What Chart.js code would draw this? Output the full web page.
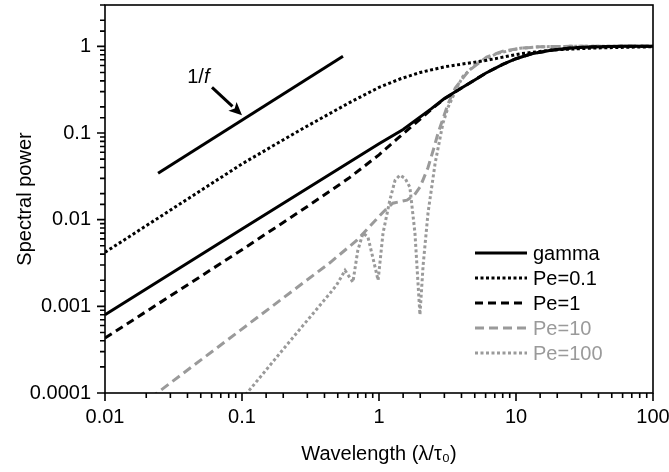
<!DOCTYPE html>
<html>
<head>
<meta charset="utf-8">
<script src="https://cdn.jsdelivr.net/npm/chart.js@4/dist/chart.umd.min.js"></script>
<style>
  html, body { margin: 0; padding: 0; background: #fff; }
  #wrap { width: 669px; height: 472px; }
</style>
</head>
<body>
<div id="wrap"><canvas id="spectrum" width="669" height="472"></canvas></div>
<script>
// values (x = wavelength, y = spectral power)
const gammaX = [0.01, 0.1, 1, 1.5, 2.4, 3, 4, 5, 6, 8, 10, 13, 18, 25, 35, 60, 100];
const gammaY = [0.0008, 0.0078, 0.075, 0.11, 0.19, 0.25, 0.33, 0.41, 0.49, 0.62, 0.72, 0.82, 0.9, 0.955, 0.985, 1.0, 1.0];

const pe01X = [0.01, 0.1, 0.265, 0.614, 1, 1.42, 2, 3, 6.1, 10.7, 18.6, 40, 100];
const pe01Y = [0.0042, 0.044, 0.108, 0.226, 0.336, 0.42, 0.5, 0.58, 0.69, 0.82, 0.91, 0.96, 0.99];

const pe1X = [0.01, 0.1, 0.3, 0.6, 1, 1.35, 2, 2.48, 3.03, 4, 5, 6, 8, 10, 13, 18, 25, 35, 60, 100];
const pe1Y = [0.00043, 0.0045, 0.0142, 0.03, 0.056, 0.085, 0.145, 0.195, 0.25, 0.33, 0.41, 0.49, 0.62, 0.72, 0.82, 0.9, 0.955, 0.985, 1.0, 1.0];

const pe10X = [0.01, 0.024, 0.08, 0.2, 0.44, 0.69, 1.07, 1.26, 1.6, 1.8, 2.0, 2.28, 2.5, 2.7, 3.2, 3.6, 4.5, 6.1, 8, 10.7, 15, 25, 100];
const pe10Y = [0.000036, 0.0001, 0.00042, 0.00125, 0.0032, 0.0058, 0.0122, 0.0155, 0.0168, 0.019, 0.024, 0.04, 0.065, 0.1, 0.22, 0.33, 0.52, 0.75, 0.88, 0.95, 0.99, 1.0, 1.0];

const pe100X = [0.1, 0.2, 0.3, 0.44, 0.49, 0.565, 0.645, 0.7, 0.764, 0.83, 0.9, 0.985, 1.07, 1.2, 1.31, 1.42, 1.55, 1.68, 1.83, 1.99, 2.1, 2.28, 2.57, 2.93, 3.2, 3.7, 4.1, 5.2, 7.3, 10.7, 15, 25, 100];
const pe100Y = [0.000085, 0.00032, 0.00069, 0.00142, 0.00176, 0.0026, 0.0019, 0.0044, 0.007, 0.0063, 0.0037, 0.002, 0.007, 0.0168, 0.0285, 0.0326, 0.03, 0.0237, 0.007, 0.0008, 0.003, 0.012, 0.045, 0.13, 0.2, 0.33, 0.45, 0.64, 0.83, 0.95, 0.99, 1.0, 1.0];

// 1/f reference line and its annotation
const refX = [0.0244, 0.546];
const refY = [0.0344, 0.767];
const arrowFrom = [0.0604, 0.336];
const arrowTo = [0.1, 0.16];
const refLabelAt = [0.048, 0.44];

const black = '#000000';
const grey = '#9a9a9a';
const fontFamily = "'Liberation Sans', Arial, Helvetica, sans-serif";

const pts = (xs, ys) => xs.map((x, i) => ({ x: x, y: ys[i] }));
const isDecade = v => {
  const e = Math.log10(v);
  return Math.abs(e - Math.round(e)) < 1e-6;
};

const extras = {
  id: 'extras',
  afterDatasetsDraw(chart) {
    const { ctx, chartArea: a } = chart;
    const xs = chart.scales.x, ys = chart.scales.y;
    ctx.save();

    // frame + tick marks (outside, bottom and left only)
    ctx.strokeStyle = black;
    ctx.lineWidth = 1.6;
    ctx.setLineDash([]);
    ctx.strokeRect(a.left, a.top, a.right - a.left, a.bottom - a.top);
    ctx.beginPath();
    xs.ticks.forEach(t => {
      const px = xs.getPixelForValue(t.value);
      const len = isDecade(t.value) ? 8 : 5;
      ctx.moveTo(px, a.bottom);
      ctx.lineTo(px, a.bottom + len);
    });
    ys.ticks.forEach(t => {
      const py = ys.getPixelForValue(t.value);
      const len = isDecade(t.value) ? 8 : 5;
      ctx.moveTo(a.left, py);
      ctx.lineTo(a.left - len, py);
    });
    ctx.stroke();

    // arrow pointing to the 1/f line
    const x0 = xs.getPixelForValue(arrowFrom[0]), y0 = ys.getPixelForValue(arrowFrom[1]);
    const x1 = xs.getPixelForValue(arrowTo[0]), y1 = ys.getPixelForValue(arrowTo[1]);
    const ang = Math.atan2(y1 - y0, x1 - x0);
    const head = 13, half = 6;
    const bx = x1 - head * Math.cos(ang), by = y1 - head * Math.sin(ang);
    ctx.lineWidth = 3;
    ctx.beginPath();
    ctx.moveTo(x0, y0);
    ctx.lineTo(bx, by);
    ctx.stroke();
    ctx.fillStyle = black;
    ctx.beginPath();
    ctx.moveTo(x1, y1);
    ctx.lineTo(bx - half * Math.sin(ang), by + half * Math.cos(ang));
    ctx.lineTo(bx + 3 * Math.cos(ang), by + 3 * Math.sin(ang));
    ctx.lineTo(bx + half * Math.sin(ang), by - half * Math.cos(ang));
    ctx.closePath();
    ctx.fill();

    // "1/f" label, f in italics
    const lx = xs.getPixelForValue(refLabelAt[0]), ly = ys.getPixelForValue(refLabelAt[1]);
    ctx.textBaseline = 'middle';
    ctx.textAlign = 'left';
    ctx.font = '20px ' + fontFamily;
    const w1 = ctx.measureText('1/').width;
    ctx.font = 'italic 20px ' + fontFamily;
    const w2 = ctx.measureText('f').width;
    const sx = lx - (w1 + w2) / 2;
    ctx.font = '20px ' + fontFamily;
    ctx.fillText('1/', sx, ly);
    ctx.font = 'italic 20px ' + fontFamily;
    ctx.fillText('f', sx + w1, ly);

    // legend in the lower right
    ctx.font = '20px ' + fontFamily;
    let row = 0;
    chart.data.datasets.forEach(ds => {
      if (!ds.label) return;
      const y = 253 + row * 25;
      ctx.strokeStyle = ds.borderColor;
      ctx.lineWidth = ds.borderWidth;
      ctx.lineCap = 'butt';
      ctx.setLineDash(ds.borderDash || []);
      ctx.beginPath();
      ctx.moveTo(475, y);
      ctx.lineTo(527, y);
      ctx.stroke();
      ctx.setLineDash([]);
      ctx.fillStyle = ds.borderColor;
      ctx.fillText(ds.label, 533, y + 1);
      row++;
    });

    ctx.restore();
  }
};

Chart.defaults.font.family = fontFamily;
Chart.defaults.color = black;

const line = (label, xs, ys, color, dash) => ({
  label: label,
  data: pts(xs, ys),
  showLine: true,
  borderColor: color,
  backgroundColor: color,
  borderWidth: 3,
  borderDash: dash,
  borderCapStyle: 'butt',
  pointRadius: 0,
  tension: 0,
  fill: false,
});

const spectrumChart = new Chart(document.getElementById('spectrum'), {
  type: 'scatter',
  data: {
    datasets: [
      line('gamma', gammaX, gammaY, black, []),
      line('Pe=0.1', pe01X, pe01Y, black, [3, 2.5]),
      line('Pe=1', pe1X, pe1Y, black, [8, 5]),
      line('Pe=10', pe10X, pe10Y, grey, [9, 5]),
      line('Pe=100', pe100X, pe100Y, grey, [3, 2.5]),
      line('', refX, refY, black, []),
    ]
  },
  options: {
    responsive: false,
    animation: false,
    layout: { padding: { top: 5, right: 16, left: 0, bottom: 0 } },
    plugins: {
      legend: { display: false },
      tooltip: { enabled: false },
    },
    scales: {
      x: {
        type: 'logarithmic',
        min: 0.01,
        max: 100,
        afterFit: s => { s.height = 79; s.paddingLeft = 0; s.paddingRight = 0; },
        border: { display: false },
        grid: { display: false, drawTicks: true, tickLength: 8 },
        ticks: {
          autoSkip: false,
          maxRotation: 0,
          padding: 4,
          font: { size: 20 },
          callback: v => isDecade(v) ? String(Number(v.toPrecision(1))) : '',
        },
        title: {
          display: true,
          text: 'Wavelength (λ/τ₀)',
          font: { size: 20 },
          padding: { top: 4, bottom: 6 },
        },
      },
      y: {
        type: 'logarithmic',
        min: 0.0001,
        max: 3,
        afterFit: s => { s.width = 105; s.paddingTop = 0; s.paddingBottom = 0; },
        border: { display: false },
        grid: { display: false, drawTicks: true, tickLength: 8 },
        ticks: {
          autoSkip: false,
          padding: 6,
          font: { size: 20 },
          callback: v => isDecade(v) ? String(Number(v.toPrecision(1))) : '',
        },
        title: {
          display: true,
          text: 'Spectral power',
          font: { size: 20 },
          padding: { top: 13, bottom: 0 },
        },
      },
    },
  },
  plugins: [extras],
});
</script>
</body>
</html>
